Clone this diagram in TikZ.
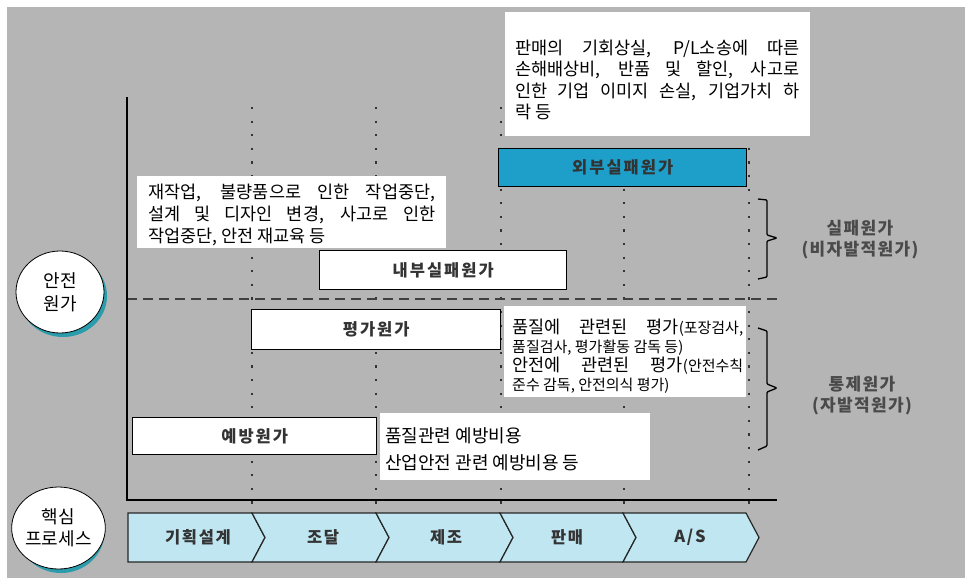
\documentclass[tikz,border=0pt]{standalone}
\usepackage{fontspec}
\setmainfont{Noto Sans CJK KR}
\usetikzlibrary{shapes.geometric}
\definecolor{bggray}{HTML}{B5B5B5}
\definecolor{extcyan}{HTML}{1E9FC9}
\definecolor{procblue}{HTML}{C0E6F2}
\definecolor{shadowteal}{HTML}{2A9CAC}
\definecolor{labelgray}{HTML}{333333}
\definecolor{sidegray}{HTML}{4A4A4A}
\newcommand\fs[2]{\fontsize{#1}{#2}\selectfont}
\newcommand\jline[2]{\makebox[#1][s]{#2}}
\newcommand\sm{\fontsize{15}{18.5}\selectfont}
\begin{document}
\begin{tikzpicture}[x=1pt,y=-1pt,
  labelbox/.style={draw=black, line width=1.4pt, fill=white, anchor=north west, inner sep=0pt,
     font=\fs{16.5}{18}\bfseries\addfontfeature{LetterSpace=12}, text=labelgray},
  notebox/.style={fill=white, anchor=north west, inner sep=0pt},
  notetext/.style={anchor=north west, inner sep=0pt, align=left},
  dotline/.style={draw=black!80, line width=2.2pt, dash pattern=on 2.2pt off 11.4pt},
  dashline/.style={draw=black!75, line width=1.3pt, dash pattern=on 10pt off 6pt},
  chev/.style={fill=procblue, draw=black!85, line width=1.2pt, line join=miter},
  chevtext/.style={font=\fs{16.5}{18}\bfseries\addfontfeature{LetterSpace=10}, text=labelgray},
  sidetext/.style={align=center, font=\fs{17}{21}\bfseries\addfontfeature{LetterSpace=8}, text=sidegray},
  bracestyle/.style={draw=black, line width=1.3pt, rounded corners=1pt},
  bubble/.style={ellipse, fill=white, draw=black, line width=0.8pt, inner sep=0pt, align=center, font=\fs{18}{22.5}},
  bubshadow/.style={ellipse, fill=shadowteal, inner sep=0pt}
]
\useasboundingbox (0,0) rectangle (965,578);
\fill[white] (0,0) rectangle (965,578);
\fill[bggray] (7,7) rectangle (965,578);

% grid of stages
\foreach \x in {252,376,501,624,749} \draw[dotline] (\x,107) -- (\x,512);
\draw[dashline] (127,299) -- (777,299);

% axes
\draw[line width=2.6pt] (127,97) -- (127,501);
\draw[line width=2pt] (126,500) -- (777,500);

% cost boxes
\node[labelbox, fill=extcyan, minimum width=248pt, minimum height=38pt] (ext) at (498,148) {외부실패원가};
\node[labelbox, minimum width=247pt, minimum height=39pt] (int) at (319,250) {내부실패원가};
\node[labelbox, minimum width=249pt, minimum height=40pt] (appr) at (251,309) {평가원가};
\node[labelbox, minimum width=244pt, minimum height=37pt] (prev) at (132,417) {예방원가};

% note boxes
\node[notebox, minimum width=305pt, minimum height=124pt] (t0) at (505,12) {};
\node[notetext, font=\fs{17.5}{21.3}] (t0txt) at (515,40) {%
\jline{284pt}{판매의 기회상실, P/L소송에 따른}\\
\jline{284pt}{손해배상비, 반품 및 할인, 사고로}\\
\jline{284pt}{인한 기업 이미지 손실, 기업가치 하}\\
락 등};

\node[notebox, minimum width=309pt, minimum height=72pt] (t1) at (137,176) {};
\node[notetext, font=\fs{17.5}{22}] (t1txt) at (148,184) {%
\jline{287pt}{재작업, 불량품으로 인한 작업중단,}\\
\jline{287pt}{설계 및 디자인 변경, 사고로 인한}\\
작업중단, 안전 재교육 등};

\node[notebox, minimum width=242pt, minimum height=91pt] (t2) at (504,306) {};
\node[notetext, font=\fs{17.5}{19}] (t2txt) at (512,319) {%
\jline{231pt}{품질에 관련된 평가{\sm(포장검사,}}\\
{\sm 품질검사, 평가활동 감독 등)}\\
\jline{231pt}{안전에 관련된 평가{\sm(안전수칙}}\\
{\sm 준수 감독, 안전의식 평가)}};

\node[notebox, minimum width=270pt, minimum height=67pt] (t3) at (380,413) {};
\node[notetext, font=\fs{18}{27}] (t3txt) at (385,427) {%
품질관련 예방비용\\
산업안전 관련 예방비용 등};

% braces and group labels
\draw[bracestyle] (758,199) -- (767,200) -- (767,235) -- (777,238) -- (767,241) -- (767,277) -- (758,279);
\draw[bracestyle] (758,328) -- (767,331) -- (767,384) -- (777,388) -- (767,392) -- (767,446) -- (758,450);
\node[sidetext] (fail) at (860,240) {실패원가\\(비자발적원가)};
\node[sidetext] (ctrl) at (862,396) {통제원가\\(자발적원가)};

% process chevrons
\draw[chev] (128,513) -- (252,513) -- (265,537.5) -- (252,562) -- (128,562) -- cycle;
\draw[chev] (252,513) -- (376,513) -- (389,537.5) -- (376,562) -- (252,562) -- (265,537.5) -- cycle;
\draw[chev] (376,513) -- (500,513) -- (513,537.5) -- (500,562) -- (376,562) -- (389,537.5) -- cycle;
\draw[chev] (500,513) -- (623,513) -- (636,537.5) -- (623,562) -- (500,562) -- (513,537.5) -- cycle;
\draw[chev] (623,513) -- (746,513) -- (759,537.5) -- (746,562) -- (623,562) -- (636,537.5) -- cycle;
\node[chevtext] (p1) at (198,537) {기획설계};
\node[chevtext] (p2) at (323,537) {조달};
\node[chevtext] (p3) at (446,537) {제조};
\node[chevtext] (p4) at (567,537) {판매};
\node[chevtext] (p5) at (690,537) {A/S};

% bubbles
\node[bubshadow, minimum width=88pt, minimum height=82pt] (c1s) at (63,296) {};
\node[bubble, minimum width=88pt, minimum height=82pt] (c1) at (60,292) {안전\\원가};
\node[bubshadow, minimum width=87pt, minimum height=82pt] (c2s) at (61,532) {};
\node[bubble, minimum width=87pt, minimum height=82pt] (c2) at (58.5,528) {핵심\\프로세스};
\end{tikzpicture}
\end{document}
